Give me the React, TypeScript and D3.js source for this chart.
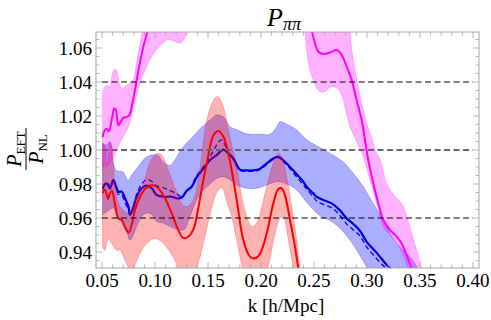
import * as d3 from 'd3';

type Pt = [number, number];

const W = 491;
const H = 320;
const PLOT = { left: 96, right: 479, top: 32, bottom: 268 };

const X_DOMAIN = [0.0443, 0.4057];
const Y_DOMAIN = [0.9306, 1.0694];

const X_TICKS = [0.05, 0.1, 0.15, 0.2, 0.25, 0.3, 0.35, 0.4];
const X_TICK_LABELS = ['0.05', '0.10', '0.15', '0.20', '0.25', '0.30', '0.35', '0.40'];
const Y_TICKS = [0.94, 0.96, 0.98, 1.0, 1.02, 1.04, 1.06];
const Y_TICK_LABELS = ['0.94', '0.96', '0.98', '1.00', '1.02', '1.04', '1.06'];
const X_MINOR = d3.range(5, 41).map((i) => i / 100);
const Y_MINOR = d3.range(187, 214).map((i) => i * 0.005);

const REF_BLACK = [1.04, 0.96];
const REF_GRAY = [1.0];
const REF_SPAN = [0.05, 0.4];

// magenta curve, leaves the frame at the top between the two pieces
const MAGENTA_A: Pt[] = [
  [0.0505, 1.0075], [0.0525, 1.0115], [0.0545, 1.0125], [0.0565, 1.011], [0.0595, 1.019],
  [0.0615, 1.0245], [0.063, 1.0235], [0.0655, 1.0145], [0.068, 1.017], [0.0705, 1.019],
  [0.0735, 1.0195], [0.0758, 1.0205], [0.0785, 1.027], [0.0811, 1.0353], [0.0843, 1.047],
  [0.087, 1.055], [0.089, 1.0608], [0.093, 1.07], [0.096, 1.078],
];
const MAGENTA_B: Pt[] = [
  [0.244, 1.08], [0.2478, 1.0706], [0.2509, 1.0627], [0.2541, 1.0578], [0.2588, 1.0565],
  [0.2651, 1.0573], [0.2714, 1.0588], [0.2761, 1.0559], [0.2808, 1.049], [0.2856, 1.0412],
  [0.2903, 1.029], [0.295, 1.0176], [0.2981, 1.0059], [0.3012, 0.9941], [0.3059, 0.9804],
  [0.3107, 0.9686], [0.3154, 0.9588], [0.3217, 0.953], [0.328, 0.949], [0.3327, 0.945],
  [0.3375, 0.938], [0.3422, 0.93], [0.345, 0.925],
];
const MAGENTA_A_HI: Pt[] = [
  [0.0505, 1.034], [0.0525, 1.037], [0.055, 1.038], [0.0575, 1.037], [0.0595, 1.044],
  [0.0615, 1.0475], [0.0635, 1.047], [0.0655, 1.042], [0.068, 1.0365], [0.071, 1.0365],
  [0.0745, 1.0385], [0.0775, 1.0395], [0.08, 1.042], [0.082, 1.049], [0.0845, 1.058],
  [0.087, 1.066], [0.0895, 1.075],
];
const MAGENTA_A_LO: Pt[] = [
  [0.0505, 0.99], [0.055, 0.991], [0.06, 0.995], [0.065, 1.002], [0.07, 1.008],
  [0.075, 1.014], [0.08, 1.026], [0.085, 1.038], [0.09, 1.046], [0.095, 1.053],
  [0.1, 1.058], [0.106, 1.062], [0.112, 1.065], [0.118, 1.064], [0.124, 1.063],
  [0.128, 1.066], [0.132, 1.075],
];
const MAGENTA_B_HI: Pt[] = [
  [0.283, 1.078], [0.2856, 1.059], [0.2887, 1.047], [0.2918, 1.037], [0.295, 1.0275],
  [0.2997, 1.0157], [0.305, 1.006], [0.3077, 1.0], [0.3125, 0.994], [0.3188, 0.98],
  [0.3266, 0.9725], [0.3327, 0.9686], [0.3375, 0.961], [0.3422, 0.951], [0.3469, 0.941],
  [0.3516, 0.93], [0.354, 0.924],
];
const MAGENTA_B_LO: Pt[] = [
  [0.2405, 1.078], [0.2431, 1.059], [0.2462, 1.047], [0.2509, 1.039], [0.2541, 1.035],
  [0.2588, 1.034], [0.262, 1.035], [0.2651, 1.037], [0.27, 1.037], [0.274, 1.035],
  [0.277, 1.031], [0.2792, 1.0255], [0.284, 1.0137], [0.2903, 1.005], [0.2965, 0.996],
  [0.3012, 0.986], [0.3059, 0.976], [0.3107, 0.965], [0.3154, 0.955], [0.3233, 0.949],
  [0.3296, 0.944], [0.3343, 0.938], [0.339, 0.93], [0.342, 0.924],
];

const RED_LINE: Pt[] = [
  [0.0505, 0.9745], [0.0528, 0.9768], [0.0557, 0.9712], [0.0575, 0.9745], [0.0594, 0.976],
  [0.0623, 0.9676], [0.0654, 0.9598], [0.0686, 0.9588], [0.0717, 0.9545], [0.075, 0.9515],
  [0.078, 0.956], [0.0811, 0.9647], [0.0875, 0.9745], [0.0937, 0.9786], [0.0984, 0.9792],
  [0.1031, 0.9775], [0.1094, 0.9716], [0.1158, 0.9627], [0.122, 0.9529], [0.1267, 0.9482],
  [0.1314, 0.949], [0.136, 0.953], [0.14, 0.963], [0.144, 0.977], [0.1488, 0.992],
  [0.155, 1.0085], [0.1597, 1.0112], [0.1644, 1.008], [0.1692, 0.998], [0.1771, 0.9706],
  [0.1833, 0.947], [0.1896, 0.9373], [0.1943, 0.9363], [0.1991, 0.939], [0.2054, 0.951],
  [0.2116, 0.9686], [0.2164, 0.977], [0.2195, 0.9775], [0.2226, 0.9735], [0.2274, 0.9588],
  [0.2321, 0.943], [0.2352, 0.93], [0.238, 0.918],
];
const RED_HI: Pt[] = [
  [0.0505, 1.004], [0.0528, 1.002], [0.055, 0.99], [0.0575, 1.004], [0.0592, 1.002],
  [0.0607, 0.992], [0.0623, 0.978], [0.067, 0.9667], [0.0748, 0.963], [0.0811, 0.9706],
  [0.089, 0.98], [0.0953, 0.9931], [0.1016, 0.998], [0.1063, 0.997], [0.1125, 0.988],
  [0.1189, 0.9775], [0.1252, 0.9686], [0.1299, 0.9667], [0.1361, 0.9706], [0.1425, 0.99],
  [0.1488, 1.0176], [0.155, 1.029], [0.159, 1.0314], [0.1644, 1.0255], [0.1692, 1.0118],
  [0.1771, 0.99], [0.1818, 0.9725], [0.1865, 0.961], [0.1912, 0.955], [0.196, 0.957],
  [0.2007, 0.9667], [0.207, 0.9824], [0.2132, 0.995], [0.2164, 0.998], [0.2195, 0.996],
  [0.2242, 0.9843], [0.229, 0.9667], [0.2337, 0.947], [0.2368, 0.931], [0.24, 0.92],
];
const RED_LO: Pt[] = [
  [0.0505, 0.943], [0.0528, 0.941], [0.0559, 0.948], [0.0592, 0.945], [0.0639, 0.941],
  [0.067, 0.941], [0.0717, 0.935], [0.0748, 0.931], [0.078, 0.926], [0.0811, 0.9324],
  [0.0875, 0.941], [0.0937, 0.946], [0.1, 0.948], [0.1063, 0.946], [0.1142, 0.94],
  [0.1205, 0.933], [0.126, 0.925], [0.132, 0.922], [0.1393, 0.931], [0.1456, 0.945],
  [0.1519, 0.962], [0.1582, 0.975], [0.1629, 0.978], [0.1676, 0.97], [0.1723, 0.961],
  [0.1771, 0.947], [0.1802, 0.937], [0.186, 0.922], [0.193, 0.914], [0.2, 0.918],
  [0.207, 0.932], [0.213, 0.95], [0.218, 0.96], [0.221, 0.961], [0.225, 0.95],
  [0.23, 0.932], [0.234, 0.915], [0.238, 0.9],
];

const BLUE_LINE: Pt[] = [
  [0.0507, 0.9775], [0.0528, 0.98], [0.0554, 0.98], [0.0575, 0.9775], [0.0607, 0.9825],
  [0.0632, 0.9785], [0.0654, 0.9755], [0.0686, 0.9755], [0.0717, 0.9716], [0.0749, 0.9667],
  [0.0764, 0.962], [0.0795, 0.966], [0.0827, 0.9725], [0.0875, 0.9775], [0.0922, 0.979],
  [0.0969, 0.9775], [0.1016, 0.9735], [0.1078, 0.9725], [0.1158, 0.9725], [0.1205, 0.9716],
  [0.1252, 0.972], [0.1299, 0.976], [0.1346, 0.9784], [0.1393, 0.984], [0.1456, 0.989],
  [0.1519, 0.9941], [0.1582, 0.997], [0.1644, 1.0002], [0.1692, 0.998], [0.1739, 0.995],
  [0.1802, 0.9885], [0.1865, 0.988], [0.1927, 0.988], [0.1991, 0.989], [0.2054, 0.9922],
  [0.2116, 0.995], [0.2164, 0.996], [0.2226, 0.993], [0.2274, 0.99], [0.2337, 0.9858],
  [0.2399, 0.9814], [0.2431, 0.9784], [0.2493, 0.9745], [0.2525, 0.9725], [0.2588, 0.9706],
  [0.2667, 0.9686], [0.2745, 0.9645], [0.2808, 0.9598], [0.2871, 0.9565], [0.2934, 0.9525],
  [0.2997, 0.946], [0.3092, 0.9395], [0.3186, 0.9324], [0.3217, 0.9305], [0.326, 0.927],
];
const BLUE_DASH: Pt[] = [
  [0.0507, 0.9765], [0.0528, 0.9795], [0.0554, 0.979], [0.0575, 0.977], [0.0607, 0.9818],
  [0.0632, 0.9775], [0.0654, 0.974], [0.0686, 0.9735], [0.0717, 0.969], [0.0749, 0.965],
  [0.0764, 0.9615], [0.0795, 0.9665], [0.0827, 0.974], [0.0875, 0.98], [0.0922, 0.9827],
  [0.0969, 0.9815], [0.1016, 0.979], [0.1078, 0.9778], [0.1158, 0.9757], [0.1205, 0.9742],
  [0.1252, 0.9725], [0.1299, 0.976], [0.1346, 0.979], [0.1393, 0.985], [0.1456, 0.99],
  [0.1519, 0.996], [0.1582, 1.003], [0.1622, 1.006], [0.166, 1.003], [0.1692, 0.9985],
  [0.1739, 0.9945], [0.1802, 0.988], [0.1865, 0.9875], [0.1927, 0.9875], [0.1991, 0.9885],
  [0.2054, 0.9915], [0.2116, 0.9945], [0.2164, 0.9955], [0.2226, 0.9922], [0.2274, 0.989],
  [0.2337, 0.9842], [0.2399, 0.9795], [0.2431, 0.977], [0.2493, 0.9725], [0.2525, 0.97],
  [0.2588, 0.968], [0.2667, 0.966], [0.2745, 0.9615], [0.2808, 0.9565], [0.2871, 0.953],
  [0.2934, 0.9495], [0.2997, 0.943], [0.3092, 0.936], [0.3186, 0.93], [0.325, 0.926],
];
const BLUE_HI: Pt[] = [
  [0.0507, 1.004], [0.054, 1.003], [0.0575, 1.005], [0.0605, 0.992], [0.0636, 0.988],
  [0.0698, 0.987], [0.0745, 0.982], [0.0777, 0.985], [0.0839, 0.99], [0.0903, 0.995],
  [0.0966, 0.997], [0.103, 0.9968], [0.1076, 0.993], [0.1139, 0.991], [0.1186, 0.994],
  [0.1233, 0.999], [0.1296, 1.004], [0.1358, 1.0078], [0.1425, 1.0125], [0.1519, 1.0176],
  [0.1582, 1.0206], [0.1644, 1.0195], [0.1707, 1.0137], [0.1771, 1.012], [0.1865, 1.0095],
  [0.1991, 1.0092], [0.2085, 1.0092], [0.2148, 1.0137], [0.218, 1.0167], [0.2242, 1.0152],
  [0.2337, 1.0118], [0.2431, 1.006], [0.2525, 1.0025], [0.2651, 0.998], [0.2777, 0.993],
  [0.2871, 0.9863], [0.2965, 0.9784], [0.3059, 0.9686], [0.3154, 0.9588], [0.3217, 0.951],
  [0.328, 0.945], [0.3343, 0.941], [0.3406, 0.937], [0.3469, 0.9314], [0.35, 0.926],
];
const BLUE_LO: Pt[] = [
  [0.0507, 0.962], [0.0554, 0.964], [0.0607, 0.966], [0.0654, 0.961], [0.0717, 0.956],
  [0.0764, 0.947], [0.0827, 0.955], [0.0875, 0.961], [0.0922, 0.963], [0.0969, 0.962],
  [0.1016, 0.958], [0.1078, 0.957], [0.1142, 0.955], [0.1268, 0.953], [0.133, 0.961],
  [0.1393, 0.9706], [0.1456, 0.9765], [0.1519, 0.98], [0.1582, 0.9833], [0.1644, 0.9843],
  [0.1707, 0.9824], [0.1771, 0.9794], [0.1865, 0.9775], [0.196, 0.9775], [0.2054, 0.9794],
  [0.2148, 0.9814], [0.2242, 0.98], [0.2337, 0.9765], [0.244, 0.9686], [0.2557, 0.9614],
  [0.2651, 0.9585], [0.2745, 0.954], [0.284, 0.947], [0.2934, 0.938], [0.2997, 0.931],
  [0.305, 0.924],
];

const SERIF = "'Liberation Serif', 'Tinos', 'Times New Roman', 'DejaVu Serif', 'Noto Serif', serif";

const xScale = d3.scaleLinear().domain(X_DOMAIN).range([PLOT.left, PLOT.right]);
const yScale = d3.scaleLinear().domain(Y_DOMAIN).range([PLOT.bottom, PLOT.top]);

const lineGen = d3
  .line<Pt>()
  .x((d) => xScale(d[0]))
  .y((d) => yScale(d[1]))
  .curve(d3.curveCatmullRom.alpha(0.5));

function bandPath(hi: Pt[], lo: Pt[]) {
  const a = lineGen(hi) ?? '';
  const b = lineGen([...lo].reverse()) ?? '';
  return `${a}L${b.slice(1)}Z`;
}

function Band({ hi, lo, color, opacity }: { hi: Pt[]; lo: Pt[]; color: string; opacity: number }) {
  return (
    <path
      d={bandPath(hi, lo)}
      fill={color}
      fillOpacity={opacity}
      stroke={color}
      strokeOpacity={0.35}
      strokeWidth={0.7}
    />
  );
}

export default function App() {
  const isMajorX = (v: number) => X_TICKS.some((t) => Math.abs(t - v) < 1e-6);
  const isMajorY = (v: number) => Y_TICKS.some((t) => Math.abs(t - v) < 1e-6);
  const frame = '#a6a6a6';
  const txt = { fontFamily: SERIF };

  return (
    <svg width={W} height={H} style={{ position: 'fixed', left: 0, top: 0, background: '#fff' }}>
      <defs>
        <clipPath id="plot-clip">
          <rect x={PLOT.left} y={PLOT.top} width={PLOT.right - PLOT.left} height={PLOT.bottom - PLOT.top} />
        </clipPath>
      </defs>

      <g clipPath="url(#plot-clip)">
        <Band hi={BLUE_HI} lo={BLUE_LO} color="#0000ff" opacity={0.32} />
        <path d={lineGen(BLUE_DASH) ?? ''} fill="none" stroke="#0000e6" strokeWidth={1.3} strokeDasharray="5,3" />
        <path d={lineGen(BLUE_LINE) ?? ''} fill="none" stroke="#0000e6" strokeWidth={2.2} />

        <Band hi={RED_HI} lo={RED_LO} color="#ff0000" opacity={0.3} />
        <path d={lineGen(RED_LINE) ?? ''} fill="none" stroke="#ff0000" strokeWidth={2} />

        <Band hi={MAGENTA_A_HI} lo={MAGENTA_A_LO} color="#ff00ff" opacity={0.3} />
        <Band hi={MAGENTA_B_HI} lo={MAGENTA_B_LO} color="#ff00ff" opacity={0.3} />
        <path d={lineGen(MAGENTA_A) ?? ''} fill="none" stroke="#ff00ff" strokeWidth={2} />
        <path d={lineGen(MAGENTA_B) ?? ''} fill="none" stroke="#ff00ff" strokeWidth={2} />

        {REF_BLACK.map((v) => (
          <line
            key={`rb-${v}`}
            x1={xScale(REF_SPAN[0])}
            x2={xScale(REF_SPAN[1])}
            y1={yScale(v)}
            y2={yScale(v)}
            stroke="#000"
            strokeWidth={1.1}
            strokeDasharray="6,3.5"
          />
        ))}
        {REF_GRAY.map((v) => (
          <line
            key={`rg-${v}`}
            x1={xScale(REF_SPAN[0])}
            x2={xScale(REF_SPAN[1])}
            y1={yScale(v)}
            y2={yScale(v)}
            stroke="#666"
            strokeWidth={1.8}
            strokeDasharray="6,3.5"
          />
        ))}
      </g>

      {/* frame */}
      <rect
        x={PLOT.left}
        y={PLOT.top}
        width={PLOT.right - PLOT.left}
        height={PLOT.bottom - PLOT.top}
        fill="none"
        stroke={frame}
        strokeWidth={1}
      />
      {X_MINOR.map((v) => {
        const x = xScale(v);
        const len = isMajorX(v) ? 6 : 3.5;
        return (
          <g key={`xt-${v}`} stroke={frame} strokeWidth={0.8}>
            <line x1={x} x2={x} y1={PLOT.bottom} y2={PLOT.bottom - len} />
            <line x1={x} x2={x} y1={PLOT.top} y2={PLOT.top + len} />
          </g>
        );
      })}
      {Y_MINOR.map((v) => {
        const y = yScale(v);
        const len = isMajorY(v) ? 6 : 3.5;
        return (
          <g key={`yt-${v}`} stroke={frame} strokeWidth={0.8}>
            <line x1={PLOT.left} x2={PLOT.left + len} y1={y} y2={y} />
            <line x1={PLOT.right} x2={PLOT.right - len} y1={y} y2={y} />
          </g>
        );
      })}

      {X_TICKS.map((v, i) => (
        <text key={`xl-${v}`} style={txt} x={xScale(v)} y={287} textAnchor="middle" fontSize={19} fill="#000">
          {X_TICK_LABELS[i]}
        </text>
      ))}
      {Y_TICKS.map((v, i) => (
        <text key={`yl-${v}`} style={txt} x={92} y={yScale(v)} dy="0.35em" textAnchor="end" fontSize={19} fill="#000">
          {Y_TICK_LABELS[i]}
        </text>
      ))}

      <text style={txt} x={286} y={312} textAnchor="middle" fontSize={19} fill="#000">
        k [h/Mpc]
      </text>

      <text style={txt} x={267} y={26} fontSize={26} fill="#000">
        <tspan fontStyle="italic">P</tspan>
        <tspan fontStyle="italic" fontSize={18} dy={4}>
          ππ
        </tspan>
      </text>

      <g transform="translate(26,149) rotate(-90)">
        <text style={txt} x={0} y={-5} textAnchor="middle" fontSize={20} fill="#000">
          <tspan fontStyle="italic">P</tspan>
          <tspan fontSize={13} dy={4}>EFT</tspan>
        </text>
        <line x1={-21} x2={21} y1={0} y2={0} stroke="#000" strokeWidth={1} />
        <text style={txt} x={0} y={17} textAnchor="middle" fontSize={20} fill="#000">
          <tspan fontStyle="italic">P</tspan>
          <tspan fontSize={13} dy={4}>NL</tspan>
        </text>
      </g>
    </svg>
  );
}
